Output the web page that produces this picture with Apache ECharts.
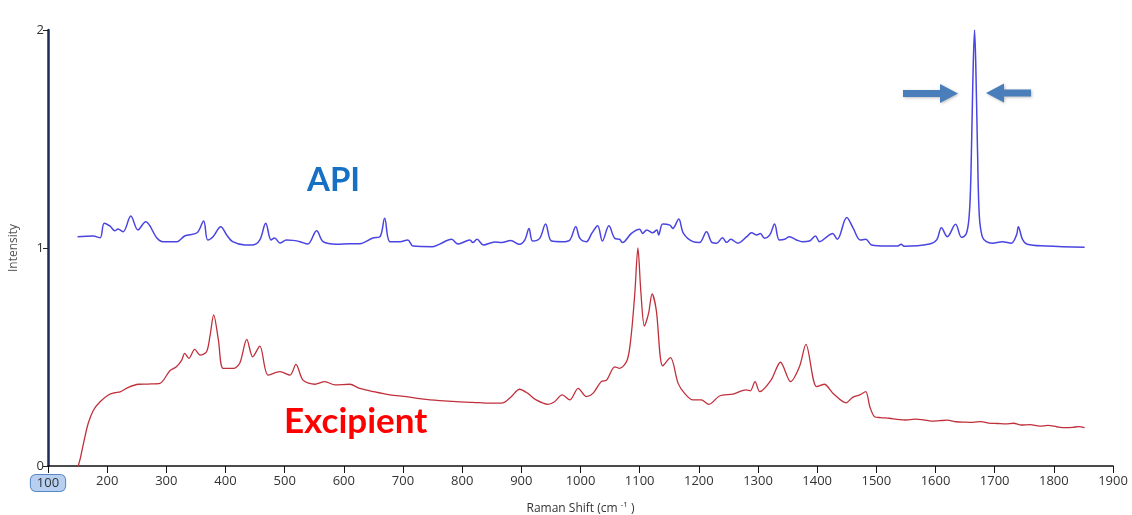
<!DOCTYPE html>
<html>
<head>
<meta charset="utf-8">
<title>Raman spectra - API vs Excipient</title>
<script src="https://cdn.jsdelivr.net/npm/echarts@6/dist/echarts.min.js"></script>
<style>
  html, body { margin: 0; padding: 0; background: #fff; }
  #chart { width: 1132px; height: 515px; }
</style>
</head>
<body>
<div id="chart"></div>
<script>
// Raman shift (cm-1) and intensity
const apiShift = [150,176,188,195,205,213,218,227,240,252,265,284,294,318,331,352,363,370,379,392,402,412,433,446,458,468,477,483,492,503,514,526,539,554,565,588,610,627,649,661,669,678,695,708,717,750,762,782,793,804,813,818,825,836,855,867,882,897,906,913,919,931,941,951,970,982,992,999,1010,1019,1029,1037,1048,1058,1066,1071,1086,1100,1105,1112,1122,1129,1132,1139,1151,1156,1166,1174,1190,1201,1213,1222,1230,1240,1247,1254,1266,1281,1289,1298,1304,1311,1320,1328,1336,1345,1353,1365,1375,1387,1397,1404,1418,1426,1434,1450,1461,1473,1482,1492,1517,1536,1542,1547,1590,1602,1610,1620,1634,1644,1652,1657,1660,1663,1666,1668,1671,1674,1679,1686,1696,1713,1728,1737,1740,1747,1755,1787,1852];
const apiIntensity = [1.052,1.055,1.047,1.114,1.100,1.079,1.087,1.075,1.147,1.083,1.120,1.046,1.029,1.029,1.055,1.070,1.124,1.037,1.052,1.098,1.060,1.029,1.014,1.014,1.037,1.114,1.037,1.046,1.023,1.037,1.035,1.029,1.018,1.079,1.029,1.017,1.020,1.020,1.046,1.052,1.136,1.029,1.029,1.037,1.009,1.006,1.018,1.040,1.018,1.029,1.037,1.025,1.040,1.014,1.028,1.025,1.034,1.017,1.037,1.090,1.032,1.044,1.110,1.032,1.029,1.037,1.098,1.044,1.029,1.067,1.102,1.032,1.102,1.044,1.040,1.025,1.067,1.086,1.067,1.083,1.070,1.083,1.060,1.110,1.105,1.090,1.133,1.067,1.029,1.025,1.075,1.026,1.022,1.047,1.026,1.040,1.022,1.052,1.070,1.060,1.067,1.045,1.060,1.110,1.037,1.040,1.052,1.037,1.029,1.032,1.055,1.029,1.055,1.067,1.040,1.140,1.090,1.037,1.040,1.014,1.009,1.009,1.017,1.008,1.018,1.037,1.093,1.052,1.109,1.049,1.065,1.15,1.35,1.75,2.0,1.85,1.45,1.15,1.052,1.029,1.022,1.029,1.022,1.06,1.098,1.040,1.017,1.009,1.003];

const excShift = [151,155,160,168,177,188,202,213,222,236,253,269,289,306,317,326,331,338,348,357,368,374,380,388,396,413,424,436,446,458,472,492,509,519,531,551,568,585,610,627,650,678,706,734,762,790,818,847,869,883,897,911,925,945,956,969,982,996,1010,1021,1035,1044,1058,1066,1079,1086,1092,1097,1102,1108,1115,1121,1128,1139,1152,1165,1176,1190,1204,1217,1235,1258,1280,1287,1295,1303,1322,1338,1355,1370,1381,1399,1412,1427,1449,1460,1472,1482,1489,1497,1507,1522,1535,1550,1565,1580,1593,1607,1620,1635,1650,1663,1677,1690,1705,1719,1732,1745,1760,1776,1790,1805,1818,1832,1842,1852];
const excIntensity = [0.0,0.04,0.104,0.196,0.257,0.295,0.326,0.336,0.340,0.361,0.375,0.376,0.379,0.437,0.455,0.486,0.517,0.494,0.535,0.509,0.524,0.60,0.693,0.578,0.448,0.448,0.471,0.581,0.501,0.550,0.417,0.433,0.417,0.466,0.394,0.375,0.387,0.372,0.375,0.356,0.341,0.326,0.318,0.307,0.300,0.295,0.292,0.288,0.290,0.318,0.352,0.333,0.303,0.283,0.295,0.326,0.303,0.356,0.318,0.333,0.387,0.394,0.455,0.448,0.486,0.608,0.80,1.0,0.80,0.642,0.70,0.789,0.716,0.459,0.497,0.379,0.333,0.303,0.303,0.283,0.321,0.330,0.349,0.345,0.387,0.341,0.394,0.476,0.387,0.455,0.558,0.364,0.375,0.333,0.290,0.315,0.326,0.341,0.272,0.226,0.222,0.219,0.214,0.211,0.215,0.212,0.206,0.208,0.210,0.203,0.201,0.200,0.204,0.197,0.195,0.193,0.196,0.188,0.190,0.183,0.186,0.180,0.176,0.177,0.181,0.176];

const xTicks = { min: 100, max: 1900, step: 100 };
const yTicks = { min: 0, max: 2, step: 1 };

const zip = (xs, ys) => xs.map((x, i) => [x, ys[i]]);

const chart = echarts.init(document.getElementById('chart'));

// arrow shape pointing right, tip at (0,0)
function arrowPoints(dir, len) {
  const pts = [[-len, -3.5], [-18, -3.5], [-18, -9.5], [0, 0], [-18, 9.5], [-18, 3.5], [-len, 3.5]];
  return pts.map(p => [p[0] * dir, p[1]]);
}

const labelFont = { fontFamily: 'Open Sans', fontSize: 13, color: '#333' };

const option = {
  animation: false,
  grid: { left: 48, right: 19, top: 30, bottom: 49, containLabel: false, outerBoundsMode: 'none' },
  xAxis: {
    type: 'value',
    min: xTicks.min, max: xTicks.max, interval: xTicks.step,
    name: 'Raman Shift (cm {sup|-1} )',
    nameLocation: 'middle',
    nameGap: 35,
    nameTextStyle: {
      fontFamily: 'Open Sans', fontSize: 12, color: '#333',
      rich: { sup: { fontSize: 8, verticalAlign: 'top', padding: [0, 0, 8, 0], color: '#333', fontFamily: 'Open Sans' } }
    },
    axisLine: { lineStyle: { color: '#111', width: 1.5 } },
    axisTick: { show: true, length: 7, lineStyle: { color: '#111' } },
    splitLine: { show: false },
    axisLabel: Object.assign({}, labelFont, {
      margin: 9,
      formatter: v => v === 100 ? '{hl|100}' : String(v),
      rich: {
        hl: Object.assign({}, labelFont, {
          backgroundColor: '#b7cff0', borderColor: '#5a86c4', borderWidth: 1,
          borderRadius: 5, padding: [2, 6, 1, 6]
        })
      }
    })
  },
  yAxis: {
    type: 'value',
    min: yTicks.min, max: yTicks.max, interval: yTicks.step,
    name: 'Intensity',
    nameLocation: 'middle',
    nameGap: 28,
    nameTextStyle: { fontFamily: 'Open Sans', fontSize: 12, color: '#555' },
    axisLine: { show: true, lineStyle: { color: '#1f2b55', width: 2.5 } },
    axisTick: { show: true, length: 5, lineStyle: { color: '#222' } },
    splitLine: { show: false },
    axisLabel: Object.assign({}, labelFont, { margin: 4 })
  },
  series: [
    {
      name: 'API',
      type: 'line',
      data: zip(apiShift, apiIntensity),
      showSymbol: false,
      smooth: 0.35,
      lineStyle: { color: '#4a44e0', width: 1.5 }
    },
    {
      name: 'Excipient',
      type: 'line',
      data: zip(excShift, excIntensity),
      showSymbol: false,
      smooth: 0.3,
      lineStyle: { color: '#c0303c', width: 1.3 }
    }
  ],
  graphic: [
    {
      type: 'text', left: 307, top: 164,
      style: { text: 'API', fill: '#1670c4', font: 'bold 33px Lato, "Open Sans", sans-serif' }
    },
    {
      type: 'text', left: 284, top: 404,
      style: { text: 'Excipient', fill: '#ff0000', font: 'bold 35px Lato, "Open Sans", sans-serif' }
    },
    {
      type: 'polygon', x: 958, y: 93.5,
      shape: { points: arrowPoints(1, 55) },
      style: { fill: '#4a7ebb', shadowColor: 'rgba(0,0,0,0.25)', shadowBlur: 3, shadowOffsetX: 1, shadowOffsetY: 1 }
    },
    {
      type: 'polygon', x: 986, y: 93,
      shape: { points: arrowPoints(-1, 45) },
      style: { fill: '#4a7ebb', shadowColor: 'rgba(0,0,0,0.25)', shadowBlur: 3, shadowOffsetX: 1, shadowOffsetY: 1 }
    }
  ]
};

chart.setOption(option);
</script>
</body>
</html>
